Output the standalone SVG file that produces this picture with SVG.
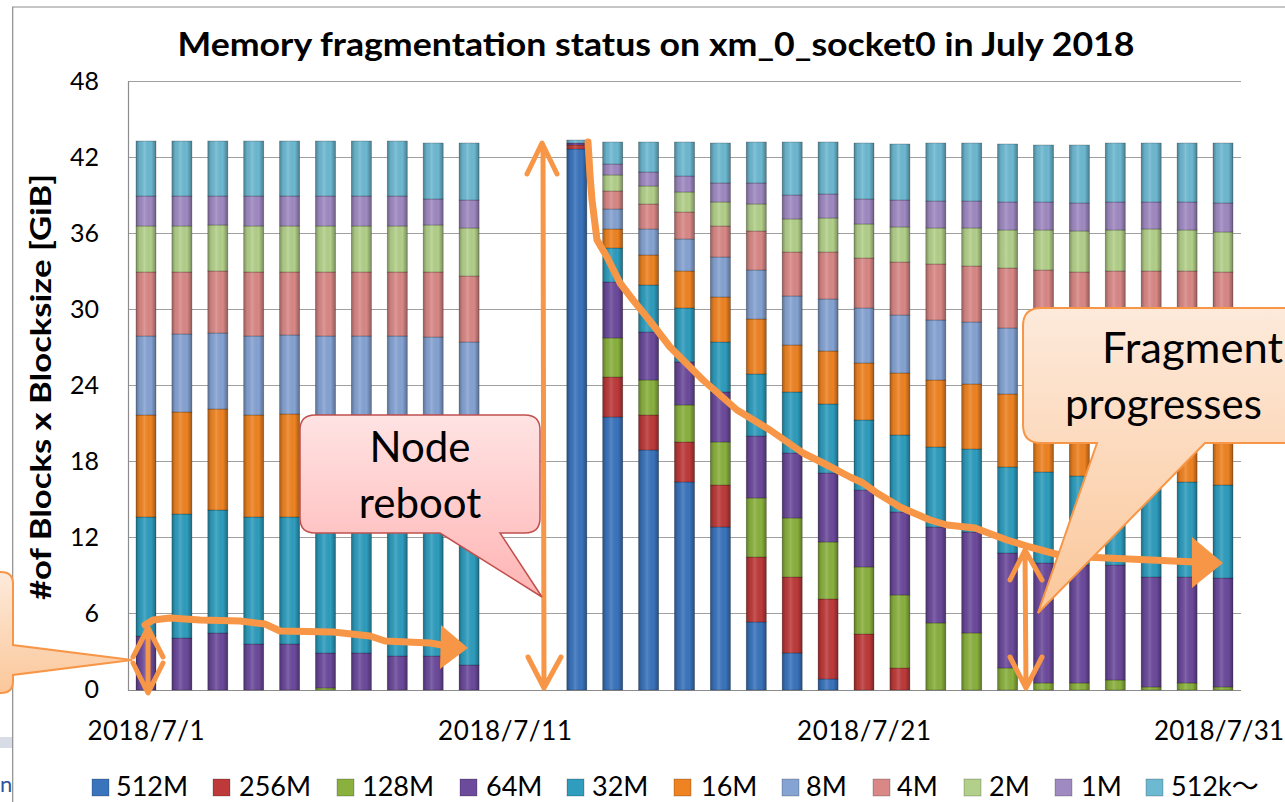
<svg xmlns="http://www.w3.org/2000/svg" width="1285" height="802" viewBox="0 0 1285 802">
<style>
text{font-family:Lato,"Open Sans","Liberation Sans",sans-serif;fill:#000}
.c0{fill:#3A74BD}.c1{fill:#BE3A3A}.c2{fill:#8AB13E}.c3{fill:#6C4A9C}.c4{fill:#2E9DBE}.c5{fill:#EF8322}
.c6{fill:#85A3D3}.c7{fill:#D98886}.c8{fill:#B3D08A}.c9{fill:#A08AC2}.c10{fill:#6DB9D2}
.bar rect{stroke:#000;stroke-opacity:.28;stroke-width:.8}
.bar rect.o{fill:url(#sh);stroke:none}
.grid{stroke:#A0A0A0;stroke-width:1}
.tick{font-size:25px;text-anchor:end}
.xl{font-size:26px;text-anchor:middle}
.lg{font-size:27px}
.ln{fill:none;stroke:#F79646;stroke-linecap:round;stroke-linejoin:round}
.cv{stroke-width:7}
.da{stroke-width:5}
.co{font-size:42px;text-anchor:middle}
</style>
<defs>
<linearGradient id="sh" x1="0" x2="1" y1="0" y2="0">
<stop offset="0" stop-color="#000" stop-opacity=".3"/>
<stop offset=".18" stop-color="#000" stop-opacity=".05"/>
<stop offset=".42" stop-color="#fff" stop-opacity=".14"/>
<stop offset=".75" stop-color="#000" stop-opacity="0"/>
<stop offset="1" stop-color="#000" stop-opacity=".32"/>
</linearGradient>
<linearGradient id="pinkG" x1="0" x2="0" y1="0" y2="1">
<stop offset="0" stop-color="#FFE3E3"/><stop offset="1" stop-color="#FFB4B4"/>
</linearGradient>
<linearGradient id="peachG" x1="0" x2="0" y1="0" y2="1">
<stop offset="0" stop-color="#FDEADB"/><stop offset="1" stop-color="#FBC79A"/>
</linearGradient>
</defs>
<rect width="1285" height="802" fill="#fff"/>
<path d="M12.7,802 V7 H1285" fill="none" stroke="#8C8C8C" stroke-width="1.2"/>
<rect x="0" y="737" width="12" height="11" fill="#D8DCE6"/>
<text x="0" y="792" style="font-size:22px;fill:#2E54A0">n</text>

<text x="656" y="56" textLength="957" lengthAdjust="spacingAndGlyphs" style="font-size:32px;font-weight:bold;text-anchor:middle">Memory fragmentation status on xm_0_socket0 in July 2018</text>
<text transform="translate(51,387) rotate(-90)" textLength="426" lengthAdjust="spacingAndGlyphs" style="font-size:29px;font-weight:bold;text-anchor:middle">#of Blocks x Blocksize [GiB]</text>

<g id="axes">
<line class="grid" x1="128" y1="81.5" x2="1241" y2="81.5"/>
<line class="grid" x1="128" y1="157.5" x2="1241" y2="157.5"/>
<line class="grid" x1="128" y1="233.5" x2="1241" y2="233.5"/>
<line class="grid" x1="128" y1="309.5" x2="1241" y2="309.5"/>
<line class="grid" x1="128" y1="385.5" x2="1241" y2="385.5"/>
<line class="grid" x1="128" y1="461.5" x2="1241" y2="461.5"/>
<line class="grid" x1="128" y1="537.5" x2="1241" y2="537.5"/>
<line class="grid" x1="128" y1="613.5" x2="1241" y2="613.5"/>
<line x1="128" y1="690.5" x2="1241" y2="690.5" stroke="#8C8C8C" stroke-width="1.2"/>
<line x1="128.5" y1="81" x2="128.5" y2="691" stroke="#8C8C8C" stroke-width="1.2"/>
<text class="tick" x="99" y="90">48</text>
<text class="tick" x="99" y="166">42</text>
<text class="tick" x="99" y="242">36</text>
<text class="tick" x="99" y="318">30</text>
<text class="tick" x="99" y="394">24</text>
<text class="tick" x="99" y="470">18</text>
<text class="tick" x="99" y="546">12</text>
<text class="tick" x="99" y="622">6</text>
<text class="tick" x="99" y="698">0</text>
<text class="xl" x="146" y="740" textLength="117" lengthAdjust="spacing">2018/7/1</text>
<text class="xl" x="505" y="740" textLength="134" lengthAdjust="spacing">2018/7/11</text>
<text class="xl" x="864" y="740" textLength="134" lengthAdjust="spacing">2018/7/21</text>
<text class="xl" x="1219" y="740" textLength="130" lengthAdjust="spacing">2018/7/31</text>
</g>

<g id="bars">
<g class="bar" id="d01" transform="translate(136,0)"><rect class="c3" y="636" height="54" width="20"/><rect class="c4" y="517" height="119" width="20"/><rect class="c5" y="415" height="102" width="20"/><rect class="c6" y="336" height="79" width="20"/><rect class="c7" y="272" height="64" width="20"/><rect class="c8" y="226" height="46" width="20"/><rect class="c9" y="196" height="30" width="20"/><rect class="c10" y="141" height="55" width="20"/><rect class="o" y="141" height="549" width="20"/></g>
<g class="bar" id="d02" transform="translate(171.9,0)"><rect class="c3" y="638" height="52" width="20"/><rect class="c4" y="514" height="124" width="20"/><rect class="c5" y="412" height="102" width="20"/><rect class="c6" y="334" height="78" width="20"/><rect class="c7" y="272" height="62" width="20"/><rect class="c8" y="226" height="46" width="20"/><rect class="c9" y="196" height="30" width="20"/><rect class="c10" y="141" height="55" width="20"/><rect class="o" y="141" height="549" width="20"/></g>
<g class="bar" id="d03" transform="translate(207.8,0)"><rect class="c3" y="633" height="57" width="20"/><rect class="c4" y="510" height="123" width="20"/><rect class="c5" y="409" height="101" width="20"/><rect class="c6" y="333" height="76" width="20"/><rect class="c7" y="271" height="62" width="20"/><rect class="c8" y="225" height="46" width="20"/><rect class="c9" y="196" height="29" width="20"/><rect class="c10" y="141" height="55" width="20"/><rect class="o" y="141" height="549" width="20"/></g>
<g class="bar" id="d04" transform="translate(243.7,0)"><rect class="c3" y="644" height="46" width="20"/><rect class="c4" y="517" height="127" width="20"/><rect class="c5" y="415" height="102" width="20"/><rect class="c6" y="336" height="79" width="20"/><rect class="c7" y="272" height="64" width="20"/><rect class="c8" y="226" height="46" width="20"/><rect class="c9" y="196" height="30" width="20"/><rect class="c10" y="141" height="55" width="20"/><rect class="o" y="141" height="549" width="20"/></g>
<g class="bar" id="d05" transform="translate(279.6,0)"><rect class="c3" y="644" height="46" width="20"/><rect class="c4" y="517" height="127" width="20"/><rect class="c5" y="414" height="103" width="20"/><rect class="c6" y="335" height="79" width="20"/><rect class="c7" y="272" height="63" width="20"/><rect class="c8" y="226" height="46" width="20"/><rect class="c9" y="196" height="30" width="20"/><rect class="c10" y="141" height="55" width="20"/><rect class="o" y="141" height="549" width="20"/></g>
<g class="bar" id="d06" transform="translate(315.5,0)"><rect class="c2" y="688" height="2" width="20"/><rect class="c3" y="653" height="35" width="20"/><rect class="c4" y="518" height="135" width="20"/><rect class="c5" y="415" height="103" width="20"/><rect class="c6" y="336" height="79" width="20"/><rect class="c7" y="272" height="64" width="20"/><rect class="c8" y="226" height="46" width="20"/><rect class="c9" y="196" height="30" width="20"/><rect class="c10" y="141" height="55" width="20"/><rect class="o" y="141" height="549" width="20"/></g>
<g class="bar" id="d07" transform="translate(351.4,0)"><rect class="c3" y="653" height="37" width="20"/><rect class="c4" y="518" height="135" width="20"/><rect class="c5" y="415" height="103" width="20"/><rect class="c6" y="336" height="79" width="20"/><rect class="c7" y="272" height="64" width="20"/><rect class="c8" y="226" height="46" width="20"/><rect class="c9" y="196" height="30" width="20"/><rect class="c10" y="141" height="55" width="20"/><rect class="o" y="141" height="549" width="20"/></g>
<g class="bar" id="d08" transform="translate(387.3,0)"><rect class="c3" y="656" height="34" width="20"/><rect class="c4" y="518" height="138" width="20"/><rect class="c5" y="415" height="103" width="20"/><rect class="c6" y="336" height="79" width="20"/><rect class="c7" y="272" height="64" width="20"/><rect class="c8" y="226" height="46" width="20"/><rect class="c9" y="196" height="30" width="20"/><rect class="c10" y="141" height="55" width="20"/><rect class="o" y="141" height="549" width="20"/></g>
<g class="bar" id="d09" transform="translate(423.2,0)"><rect class="c3" y="656" height="34" width="20"/><rect class="c4" y="518" height="138" width="20"/><rect class="c5" y="415" height="103" width="20"/><rect class="c6" y="337" height="78" width="20"/><rect class="c7" y="272" height="65" width="20"/><rect class="c8" y="225" height="47" width="20"/><rect class="c9" y="199" height="26" width="20"/><rect class="c10" y="143" height="56" width="20"/><rect class="o" y="143" height="547" width="20"/></g>
<g class="bar" id="d10" transform="translate(459.1,0)"><rect class="c3" y="665" height="25" width="20"/><rect class="c4" y="522" height="143" width="20"/><rect class="c5" y="420" height="102" width="20"/><rect class="c6" y="342" height="78" width="20"/><rect class="c7" y="276" height="66" width="20"/><rect class="c8" y="228" height="48" width="20"/><rect class="c9" y="200" height="28" width="20"/><rect class="c10" y="143" height="57" width="20"/><rect class="o" y="143" height="547" width="20"/></g>
<g class="bar" id="d13" transform="translate(566.8,0)"><rect class="c0" y="149" height="541" width="20"/><rect class="c1" y="145" height="4" width="20"/><rect class="c3" y="143" height="2" width="20"/><rect class="c10" y="140" height="3" width="20"/><rect class="o" y="140" height="550" width="20"/></g>
<g class="bar" id="d14" transform="translate(602.7,0)"><rect class="c0" y="417" height="273" width="20"/><rect class="c1" y="377" height="40" width="20"/><rect class="c2" y="338" height="39" width="20"/><rect class="c3" y="282" height="56" width="20"/><rect class="c4" y="248" height="34" width="20"/><rect class="c5" y="229" height="19" width="20"/><rect class="c6" y="209" height="20" width="20"/><rect class="c7" y="191" height="18" width="20"/><rect class="c8" y="175" height="16" width="20"/><rect class="c9" y="164" height="11" width="20"/><rect class="c10" y="142" height="22" width="20"/><rect class="o" y="142" height="548" width="20"/></g>
<g class="bar" id="d15" transform="translate(638.6,0)"><rect class="c0" y="450" height="240" width="20"/><rect class="c1" y="415" height="35" width="20"/><rect class="c2" y="380" height="35" width="20"/><rect class="c3" y="332" height="48" width="20"/><rect class="c4" y="285" height="47" width="20"/><rect class="c5" y="255" height="30" width="20"/><rect class="c6" y="229" height="26" width="20"/><rect class="c7" y="204" height="25" width="20"/><rect class="c8" y="186" height="18" width="20"/><rect class="c9" y="172" height="14" width="20"/><rect class="c10" y="142" height="30" width="20"/><rect class="o" y="142" height="548" width="20"/></g>
<g class="bar" id="d16" transform="translate(674.5,0)"><rect class="c0" y="482" height="208" width="20"/><rect class="c1" y="442" height="40" width="20"/><rect class="c2" y="405" height="37" width="20"/><rect class="c3" y="362" height="43" width="20"/><rect class="c4" y="308" height="54" width="20"/><rect class="c5" y="271" height="37" width="20"/><rect class="c6" y="239" height="32" width="20"/><rect class="c7" y="212" height="27" width="20"/><rect class="c8" y="192" height="20" width="20"/><rect class="c9" y="176" height="16" width="20"/><rect class="c10" y="142" height="34" width="20"/><rect class="o" y="142" height="548" width="20"/></g>
<g class="bar" id="d17" transform="translate(710.4,0)"><rect class="c0" y="527" height="163" width="20"/><rect class="c1" y="485" height="42" width="20"/><rect class="c2" y="442" height="43" width="20"/><rect class="c3" y="392" height="50" width="20"/><rect class="c4" y="342" height="50" width="20"/><rect class="c5" y="297" height="45" width="20"/><rect class="c6" y="257" height="40" width="20"/><rect class="c7" y="226" height="31" width="20"/><rect class="c8" y="202" height="24" width="20"/><rect class="c9" y="183" height="19" width="20"/><rect class="c10" y="143" height="40" width="20"/><rect class="o" y="143" height="547" width="20"/></g>
<g class="bar" id="d18" transform="translate(746.3,0)"><rect class="c0" y="622" height="68" width="20"/><rect class="c1" y="557" height="65" width="20"/><rect class="c2" y="498" height="59" width="20"/><rect class="c3" y="436" height="62" width="20"/><rect class="c4" y="374" height="62" width="20"/><rect class="c5" y="319" height="55" width="20"/><rect class="c6" y="270" height="49" width="20"/><rect class="c7" y="231" height="39" width="20"/><rect class="c8" y="204" height="27" width="20"/><rect class="c9" y="183" height="21" width="20"/><rect class="c10" y="142" height="41" width="20"/><rect class="o" y="142" height="548" width="20"/></g>
<g class="bar" id="d19" transform="translate(782.2,0)"><rect class="c0" y="653" height="37" width="20"/><rect class="c1" y="577" height="76" width="20"/><rect class="c2" y="518" height="59" width="20"/><rect class="c3" y="453" height="65" width="20"/><rect class="c4" y="392" height="61" width="20"/><rect class="c5" y="345" height="47" width="20"/><rect class="c6" y="296" height="49" width="20"/><rect class="c7" y="252" height="44" width="20"/><rect class="c8" y="219" height="33" width="20"/><rect class="c9" y="195" height="24" width="20"/><rect class="c10" y="142" height="53" width="20"/><rect class="o" y="142" height="548" width="20"/></g>
<g class="bar" id="d20" transform="translate(818.1,0)"><rect class="c0" y="679" height="11" width="20"/><rect class="c1" y="599" height="80" width="20"/><rect class="c2" y="542" height="57" width="20"/><rect class="c3" y="473" height="69" width="20"/><rect class="c4" y="404" height="69" width="20"/><rect class="c5" y="351" height="53" width="20"/><rect class="c6" y="299" height="52" width="20"/><rect class="c7" y="252" height="47" width="20"/><rect class="c8" y="218" height="34" width="20"/><rect class="c9" y="194" height="24" width="20"/><rect class="c10" y="142" height="52" width="20"/><rect class="o" y="142" height="548" width="20"/></g>
<g class="bar" id="d21" transform="translate(854,0)"><rect class="c1" y="634" height="56" width="20"/><rect class="c2" y="567" height="67" width="20"/><rect class="c3" y="490" height="77" width="20"/><rect class="c4" y="420" height="70" width="20"/><rect class="c5" y="363" height="57" width="20"/><rect class="c6" y="308" height="55" width="20"/><rect class="c7" y="258" height="50" width="20"/><rect class="c8" y="224" height="34" width="20"/><rect class="c9" y="199" height="25" width="20"/><rect class="c10" y="143" height="56" width="20"/><rect class="o" y="143" height="547" width="20"/></g>
<g class="bar" id="d22" transform="translate(889.9,0)"><rect class="c1" y="668" height="22" width="20"/><rect class="c2" y="595" height="73" width="20"/><rect class="c3" y="512" height="83" width="20"/><rect class="c4" y="435" height="77" width="20"/><rect class="c5" y="373" height="62" width="20"/><rect class="c6" y="315" height="58" width="20"/><rect class="c7" y="262" height="53" width="20"/><rect class="c8" y="227" height="35" width="20"/><rect class="c9" y="200" height="27" width="20"/><rect class="c10" y="144" height="56" width="20"/><rect class="o" y="144" height="546" width="20"/></g>
<g class="bar" id="d23" transform="translate(925.8,0)"><rect class="c2" y="623" height="67" width="20"/><rect class="c3" y="527" height="96" width="20"/><rect class="c4" y="447" height="80" width="20"/><rect class="c5" y="380" height="67" width="20"/><rect class="c6" y="320" height="60" width="20"/><rect class="c7" y="264" height="56" width="20"/><rect class="c8" y="228" height="36" width="20"/><rect class="c9" y="201" height="27" width="20"/><rect class="c10" y="143" height="58" width="20"/><rect class="o" y="143" height="547" width="20"/></g>
<g class="bar" id="d24" transform="translate(961.7,0)"><rect class="c2" y="633" height="57" width="20"/><rect class="c3" y="532" height="101" width="20"/><rect class="c4" y="449" height="83" width="20"/><rect class="c5" y="384" height="65" width="20"/><rect class="c6" y="322" height="62" width="20"/><rect class="c7" y="266" height="56" width="20"/><rect class="c8" y="228" height="38" width="20"/><rect class="c9" y="201" height="27" width="20"/><rect class="c10" y="143" height="58" width="20"/><rect class="o" y="143" height="547" width="20"/></g>
<g class="bar" id="d25" transform="translate(997.6,0)"><rect class="c2" y="668" height="22" width="20"/><rect class="c3" y="553" height="115" width="20"/><rect class="c4" y="467" height="86" width="20"/><rect class="c5" y="394" height="73" width="20"/><rect class="c6" y="328" height="66" width="20"/><rect class="c7" y="268" height="60" width="20"/><rect class="c8" y="230" height="38" width="20"/><rect class="c9" y="202" height="28" width="20"/><rect class="c10" y="144" height="58" width="20"/><rect class="o" y="144" height="546" width="20"/></g>
<g class="bar" id="d26" transform="translate(1033.5,0)"><rect class="c2" y="683" height="7" width="20"/><rect class="c3" y="563" height="120" width="20"/><rect class="c4" y="472" height="91" width="20"/><rect class="c5" y="400" height="72" width="20"/><rect class="c6" y="332" height="68" width="20"/><rect class="c7" y="270" height="62" width="20"/><rect class="c8" y="230" height="40" width="20"/><rect class="c9" y="202" height="28" width="20"/><rect class="c10" y="145" height="57" width="20"/><rect class="o" y="145" height="545" width="20"/></g>
<g class="bar" id="d27" transform="translate(1069.4,0)"><rect class="c2" y="683" height="7" width="20"/><rect class="c3" y="565" height="118" width="20"/><rect class="c4" y="476" height="89" width="20"/><rect class="c5" y="402" height="74" width="20"/><rect class="c6" y="334" height="68" width="20"/><rect class="c7" y="272" height="62" width="20"/><rect class="c8" y="231" height="41" width="20"/><rect class="c9" y="203" height="28" width="20"/><rect class="c10" y="145" height="58" width="20"/><rect class="o" y="145" height="545" width="20"/></g>
<g class="bar" id="d28" transform="translate(1105.3,0)"><rect class="c2" y="680" height="10" width="20"/><rect class="c3" y="565" height="115" width="20"/><rect class="c4" y="478" height="87" width="20"/><rect class="c5" y="404" height="74" width="20"/><rect class="c6" y="336" height="68" width="20"/><rect class="c7" y="271" height="65" width="20"/><rect class="c8" y="230" height="41" width="20"/><rect class="c9" y="202" height="28" width="20"/><rect class="c10" y="143" height="59" width="20"/><rect class="o" y="143" height="547" width="20"/></g>
<g class="bar" id="d29" transform="translate(1141.2,0)"><rect class="c2" y="687" height="3" width="20"/><rect class="c3" y="577" height="110" width="20"/><rect class="c4" y="480" height="97" width="20"/><rect class="c5" y="405" height="75" width="20"/><rect class="c6" y="336" height="69" width="20"/><rect class="c7" y="271" height="65" width="20"/><rect class="c8" y="229" height="42" width="20"/><rect class="c9" y="202" height="27" width="20"/><rect class="c10" y="143" height="59" width="20"/><rect class="o" y="143" height="547" width="20"/></g>
<g class="bar" id="d30" transform="translate(1177.1,0)"><rect class="c2" y="683" height="7" width="20"/><rect class="c3" y="577" height="106" width="20"/><rect class="c4" y="482" height="95" width="20"/><rect class="c5" y="406" height="76" width="20"/><rect class="c6" y="337" height="69" width="20"/><rect class="c7" y="271" height="66" width="20"/><rect class="c8" y="230" height="41" width="20"/><rect class="c9" y="202" height="28" width="20"/><rect class="c10" y="143" height="59" width="20"/><rect class="o" y="143" height="547" width="20"/></g>
<g class="bar" id="d31" transform="translate(1213,0)"><rect class="c2" y="687" height="3" width="20"/><rect class="c3" y="578" height="109" width="20"/><rect class="c4" y="485" height="93" width="20"/><rect class="c5" y="408" height="77" width="20"/><rect class="c6" y="338" height="70" width="20"/><rect class="c7" y="272" height="66" width="20"/><rect class="c8" y="232" height="40" width="20"/><rect class="c9" y="203" height="29" width="20"/><rect class="c10" y="143" height="60" width="20"/><rect class="o" y="143" height="547" width="20"/></g>
</g>

<g id="legend">
<g class="bar"><rect class="c0" x="92" y="779" width="17" height="17"/><rect class="c1" x="213" y="779" width="17" height="17"/><rect class="c2" x="337" y="779" width="17" height="17"/><rect class="c3" x="460" y="779" width="17" height="17"/><rect class="c4" x="567" y="779" width="17" height="17"/><rect class="c5" x="674" y="779" width="17" height="17"/><rect class="c6" x="782" y="779" width="17" height="17"/><rect class="c7" x="873" y="779" width="17" height="17"/><rect class="c8" x="964" y="779" width="17" height="17"/><rect class="c9" x="1055" y="779" width="17" height="17"/><rect class="c10" x="1146" y="779" width="17" height="17"/></g>
<text class="lg" x="116" y="796">512M</text>
<text class="lg" x="239" y="796">256M</text>
<text class="lg" x="362" y="796">128M</text>
<text class="lg" x="486" y="796">64M</text>
<text class="lg" x="592" y="796">32M</text>
<text class="lg" x="701" y="796">16M</text>
<text class="lg" x="806" y="796">8M</text>
<text class="lg" x="897" y="796">4M</text>
<text class="lg" x="989" y="796">2M</text>
<text class="lg" x="1081" y="796">1M</text>
<text class="lg" x="1171" y="796" style="font-family:Lato,'Noto Sans CJK JP',sans-serif">512k～</text>
</g>

<g id="connectors">
<path class="ln cv" d="M145,625 L153,620 L170,618 L200,620 L240,621 L265,624 L280,631 L333,632 L370,636 L385,641 L430,643 L448,646"/>
<path d="M441,625 L468,648 L440,669 Z" fill="#F79646"/>
<path class="ln da" d="M543,145 L544,686 M527,174 L542,143 L557,174 M528,657 L544,688 L561,657"/>
<path class="ln cv" d="M588,142 L590,175 L592,200 L597,240 L607,257 L620,283 L633,300 L650,321 L670,347 L703,380 L737,410 L770,430 L803,453 L827,465 L850,477 L863,483 L877,493 L900,507 L930,520 L947,525 L975,528 L1007,540 L1030,547 L1063,556 L1195,562"/>
<path d="M1192,537 L1223,563 L1192,588 Z" fill="#F79646"/>
<path class="ln da" d="M1025,552 L1026,686 M1010,580 L1025,550 L1042,580 M1010,657 L1026,688 L1042,657"/>
<path class="ln da" d="M148,630 L148,691 M133,657 L148,628 L163,657 M133,663 L148,693 L163,663"/>
</g>

<g id="callout-left">
<path d="M-20,572 H1 Q13,572 13,584 V645 L132,660 L13,675 V681 Q13,693 1,693 H-20 Z" fill="url(#peachG)" stroke="#F79646" stroke-width="2"/>
</g>
<g id="callout-reboot">
<path d="M315,415 H525 Q540,415 540,430 V518 Q540,533 525,533 H500 L542,597 L440,533 H315 Q300,533 300,518 V430 Q300,415 315,415 Z" fill="url(#pinkG)" stroke="#C0504D" stroke-width="1.5"/>
<text class="co" x="420" y="462">Node</text>
<text class="co" x="420" y="518">reboot</text>
</g>
<g id="callout-fragment">
<path d="M1041,308 H1300 V443 H1205 L1038,613 L1097,443 H1041 Q1023,443 1023,425 V326 Q1023,308 1041,308 Z" fill="url(#peachG)" stroke="#F79646" stroke-width="2"/>
<text class="co" x="1102" y="363" textLength="181" lengthAdjust="spacingAndGlyphs" style="text-anchor:start">Fragment</text>
<text class="co" x="1065" y="419" style="text-anchor:start">progresses</text>
</g>
</svg>
